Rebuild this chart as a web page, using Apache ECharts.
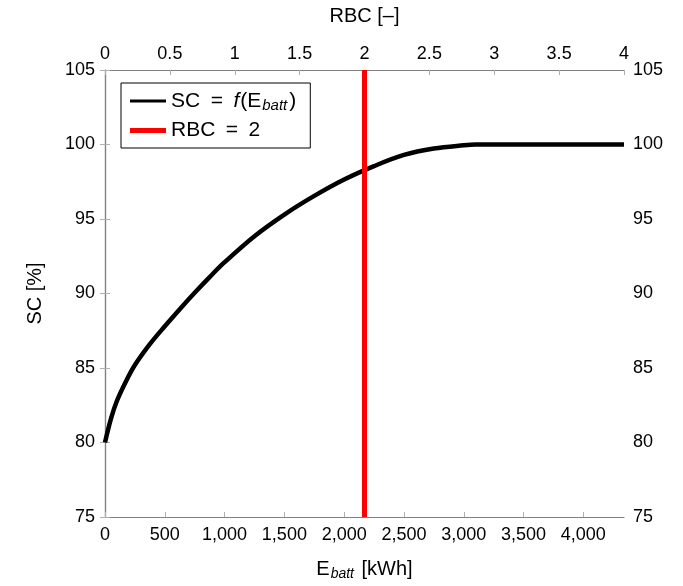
<!DOCTYPE html>
<html>
<head>
<meta charset="utf-8">
<script src="https://cdn.jsdelivr.net/npm/echarts@6/dist/echarts.min.js"></script>
<style>
  html, body { margin: 0; padding: 0; background: #fff; }
  #chart { width: 683px; height: 586px; }
</style>
</head>
<body>
<div id="chart"></div>
<script>
// 배터리 용량 대비 SC 곡선 (값은 그림에서 읽음)
const E_KWH = [0, 50, 100, 175, 250, 375, 500, 625, 750, 875, 1000, 1250, 1500, 1750, 2000, 2250, 2500, 2750, 3000, 3100, 4340];
const SC_PCT = [80.0, 81.6, 82.8, 84.1, 85.2, 86.6, 87.8, 88.95, 90.05, 91.1, 92.1, 93.85, 95.3, 96.55, 97.65, 98.55, 99.3, 99.73, 99.95, 100, 100];

// RBC = 2 세로선 (E = 2170 kWh)
const RBC_E = 2170;
const SC_RANGE = [75, 105];

const FONT = '"Liberation Sans", Arial, sans-serif';
const AXIS_GRAY = "#808080";
const SP = "\u2002"; // 수식 '=' 양옆 넓은 공백

const el = document.getElementById("chart");
const chart = echarts.init(el, null, { renderer: "canvas" });

const lineAxis = { show: true, lineStyle: { color: AXIS_GRAY, width: 1.2 } };
const tickIn = { show: true, inside: true, length: 5, lineStyle: { color: "#b0b0b0", width: 1 } };
const labelStyle = { color: "#000", fontSize: 18, fontFamily: FONT };

chart.setOption({
  backgroundColor: "#fff",
  animation: false,
  textStyle: { fontFamily: FONT, color: "#000" },
  grid: { left: 105, right: 59, top: 70, bottom: 68 },
  legend: {
    left: 121, top: 83,
    orient: "vertical",
    itemGap: 7,
    itemWidth: 36,
    itemHeight: 20,
    symbolKeepAspect: true,
    padding: [6, 14, 7, 9],
    borderColor: "#000",
    borderWidth: 1,
    backgroundColor: "#fff",
    formatter: function (name) {
      if (name === "SC") return "{a|SC" + SP + "=" + SP + "}{i|f}{a|(E}{s|batt}{a|)}";
      return "{a|RBC" + SP + "=" + SP + "2}";
    },
    textStyle: {
      color: "#000",
      rich: {
        a: { fontSize: 21, fontFamily: FONT, color: "#000", lineHeight: 20 },
        i: { fontSize: 21, fontFamily: FONT, fontStyle: "italic", color: "#000", lineHeight: 20, padding: [0, 1, 0, 0] },
        s: { fontSize: 15, fontFamily: FONT, fontStyle: "italic", color: "#000", lineHeight: 20, padding: [9, 2, 0, 1] }
      }
    },
    data: [
      { name: "SC", icon: "path://M0,0h36v3h-36z" },
      { name: "RBC", icon: "path://M0,0h36v5h-36z" }
    ]
  },
  xAxis: [
    {
      type: "value", position: "bottom",
      min: 0, max: 4340, interval: 500,
      name: "{a|E}{s|batt}{a| [kWh]}",
      nameLocation: "middle", nameGap: 41,
      nameTextStyle: {
        rich: {
          a: { fontSize: 20, fontFamily: FONT, color: "#000" },
          s: { fontSize: 14, fontFamily: FONT, fontStyle: "italic", color: "#000", padding: [9, 2, 0, 1] }
        }
      },
      axisLine: lineAxis, axisTick: tickIn, splitLine: { show: false },
      axisLabel: Object.assign({}, labelStyle, {
        margin: 9, showMaxLabel: false,
        formatter: v => v.toLocaleString("en-US")
      })
    },
    {
      type: "value", position: "top",
      min: 0, max: 4, interval: 0.5,
      name: "RBC [–]",
      nameLocation: "middle", nameGap: 44,
      nameTextStyle: { fontSize: 20, fontFamily: FONT, color: "#000" },
      axisLine: lineAxis, axisTick: tickIn, splitLine: { show: false },
      axisLabel: Object.assign({}, labelStyle, { margin: 7 })
    }
  ],
  yAxis: [
    {
      type: "value", position: "left",
      min: SC_RANGE[0], max: SC_RANGE[1], interval: 5,
      name: "SC [%]",
      nameLocation: "middle", nameGap: 60,
      nameTextStyle: { fontSize: 20, fontFamily: FONT, color: "#000" },
      axisLine: lineAxis, axisTick: tickIn, splitLine: { show: false },
      axisLabel: Object.assign({}, labelStyle, { margin: 10 })
    },
    {
      type: "value", position: "right",
      min: SC_RANGE[0], max: SC_RANGE[1], interval: 5,
      axisLine: lineAxis, axisTick: tickIn, splitLine: { show: false },
      axisLabel: Object.assign({}, labelStyle, { margin: 9 })
    }
  ],
  series: [
    {
      name: "SC", type: "line",
      xAxisIndex: 0, yAxisIndex: 0,
      data: E_KWH.map((e, i) => [e, SC_PCT[i]]),
      smooth: 0.35,
      showSymbol: false, symbol: "none",
      lineStyle: { color: "#000", width: 4.5 },
      itemStyle: { color: "#000" },
      z: 3
    },
    {
      name: "RBC", type: "line",
      xAxisIndex: 0, yAxisIndex: 0,
      data: SC_RANGE.map(v => [RBC_E, v]),
      showSymbol: false, symbol: "none",
      lineStyle: { color: "#ff0000", width: 5 },
      itemStyle: { color: "#ff0000" },
      z: 4
    }
  ]
});
</script>
</body>
</html>
